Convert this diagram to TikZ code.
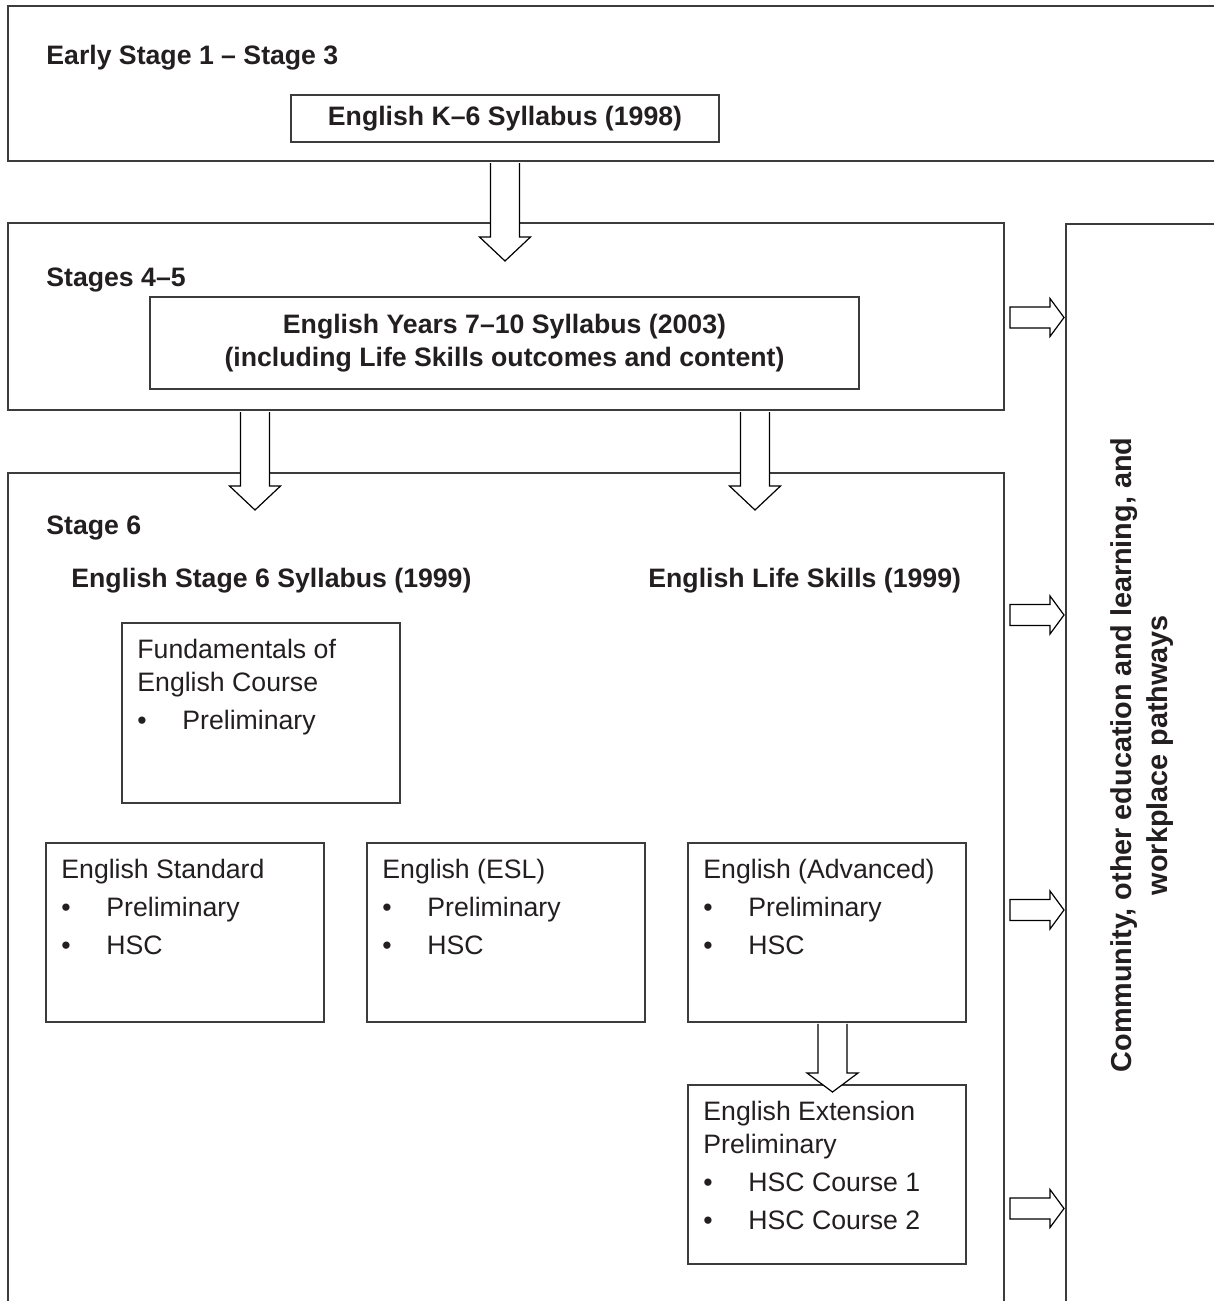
\documentclass[tikz,border=0pt]{standalone}
\usepackage{fontspec}
\setmainfont{Liberation Sans}
\usetikzlibrary{calc}

\definecolor{inkgrey}{HTML}{231F20}
\definecolor{rulegrey}{HTML}{3C3C3C}

\tikzset{
  every node/.style={font=\fontsize{13.33}{16.25}\selectfont, text=inkgrey, inner sep=0pt},
  stagebox/.style={draw=rulegrey, line width=1pt, anchor=north west},
  coursebox/.style={draw=rulegrey, line width=0.9pt, anchor=north west,
    minimum width=139pt, minimum height=89.5pt},
  syllbox/.style={draw=rulegrey, line width=0.9pt, align=center,
    font=\fontsize{13.33}{16.25}\selectfont\bfseries},
  stagelabel/.style={anchor=base west, font=\fontsize{13.33}{16.25}\selectfont\bfseries},
  coursetext/.style={anchor=north west, align=left},
  blockarrow/.style={draw=black, fill=white, line width=0.6pt, line join=miter}
}

% bullet with the hanging indent of the course lists
\newcommand{\bulletline}[1]{\makebox[22.5pt][l]{\textbullet}#1}

% hollow arrow pointing down, from one box into the next
\newcommand{\blockdown}[5]{%
  % #1 from, #2 to, #3 x of shaft, #4 end of shaft below #2, #5 tip below #2
  \coordinate (bd from) at (#3,0 |- #1.south);
  \coordinate (bd to) at (#3,0 |- #2.north);
  \draw[blockarrow] ($(bd from)+(-14.5,1)$) -- ($(bd to)+(-14.5,#4)$)
    -- ($(bd to)+(-25.5,#4)$) -- ($(bd to)+(0,#5)$) -- ($(bd to)+(25.5,#4)$)
    -- ($(bd to)+(14.5,#4)$) -- ($(bd from)+(14.5,1)$);
}

% hollow arrow pointing right, towards the pathways column
\newcommand{\blockright}[3]{%
  % #1 from, #2 to, #3 y of shaft
  \coordinate (br from) at (#1.east |- 0,#3);
  \coordinate (br to) at (#2.west |- 0,#3);
  \draw[blockarrow] ($(br from)+(5,-10.5)$) -- ($(br to)+(-15,-10.5)$)
    -- ($(br to)+(-15,-19)$) -- ($(br to)+(-1,0)$) -- ($(br to)+(-15,19)$)
    -- ($(br to)+(-15,10.5)$) -- ($(br from)+(5,10.5)$) -- cycle;
}

\begin{document}
\begin{tikzpicture}[x=0.5pt, y=-0.5pt]
    \useasboundingbox (0,0) rectangle (1214,1301);
    \clip (0,0) rectangle (1214,1301);

    % stage frames (the open ones run off the page)
    \node[stagebox, minimum width=620pt, minimum height=77.5pt] (early) at (7,5) {};
    \node[stagebox, minimum width=498pt, minimum height=93.5pt] (stages45) at (7,222) {};
    \node[stagebox, minimum width=498pt, minimum height=450pt] (stage6) at (7,472) {};
    \node[stagebox, minimum width=100pt, minimum height=560pt] (pathways) at (1065,223) {};

    % syllabus boxes
    \node[syllbox, minimum width=214pt, minimum height=23.5pt] (k6) at (505,118.5)
      {English K–6 Syllabus (1998)};
    \node[syllbox, minimum width=354.5pt, minimum height=46pt] (y710) at (504.5,343)
      {English Years 7–10 Syllabus (2003)\\(including Life Skills outcomes and content)};

    % course boxes
    \node[coursebox, minimum height=90pt] (fund) at (121,622) {};
    \node[coursebox] (std) at (45,842) {};
    \node[coursebox] (esl) at (366,842) {};
    \node[coursebox] (adv) at (687,842) {};
    \node[coursebox] (ext) at (687,1084) {};

    % arrows
    \blockdown{early}{stages45}{505}{15}{39}
    \blockdown{stages45}{stage6}{255}{14}{38}
    \blockdown{stages45}{stage6}{755}{14}{38}
    \blockdown{adv}{ext}{832.5}{-11}{8}
    \blockright{stages45}{pathways}{317.5}
    \foreach \y in {615,910,1208.5}
      {\blockright{stage6}{pathways}{\y}}

    % stage labels
    \node[stagelabel] (earlylabel) at (46,64) {Early Stage 1 – Stage 3};
    \node[stagelabel] (s45label) at (46,286) {Stages 4–5};
    \node[stagelabel] (s6label) at (46,534) {Stage 6};
    \node[stagelabel] (s6syll) at (71,587) {English Stage 6 Syllabus (1999)};
    \node[stagelabel] (lifeskills) at (648,587) {English Life Skills (1999)};

    % course lists
    \node[coursetext] (fundtext) at ($(fund.north west)+(16,17)$)
      {Fundamentals of\\English Course\\[2.75pt]\bulletline{Preliminary}};
    \node[coursetext] (stdtext) at ($(std.north west)+(16,17)$)
      {English Standard\\[2.75pt]\bulletline{Preliminary}\\[2.75pt]\bulletline{HSC}};
    \node[coursetext] (esltext) at ($(esl.north west)+(16,17)$)
      {English (ESL)\\[2.75pt]\bulletline{Preliminary}\\[2.75pt]\bulletline{HSC}};
    \node[coursetext] (advtext) at ($(adv.north west)+(16,17)$)
      {English (Advanced)\\[2.75pt]\bulletline{Preliminary}\\[2.75pt]\bulletline{HSC}};
    \node[coursetext] (exttext) at ($(ext.north west)+(16,17)$)
      {English Extension\\Preliminary\\[2.75pt]\bulletline{HSC Course 1}\\[2.75pt]\bulletline{HSC Course 2}};

    % pathways column
    \node[rotate=90, align=center, font=\fontsize{14.4}{18}\selectfont\bfseries]
      (pathtext) at (1142,755)
      {Community, other education and learning, and\\workplace pathways};
\end{tikzpicture}
\end{document}
